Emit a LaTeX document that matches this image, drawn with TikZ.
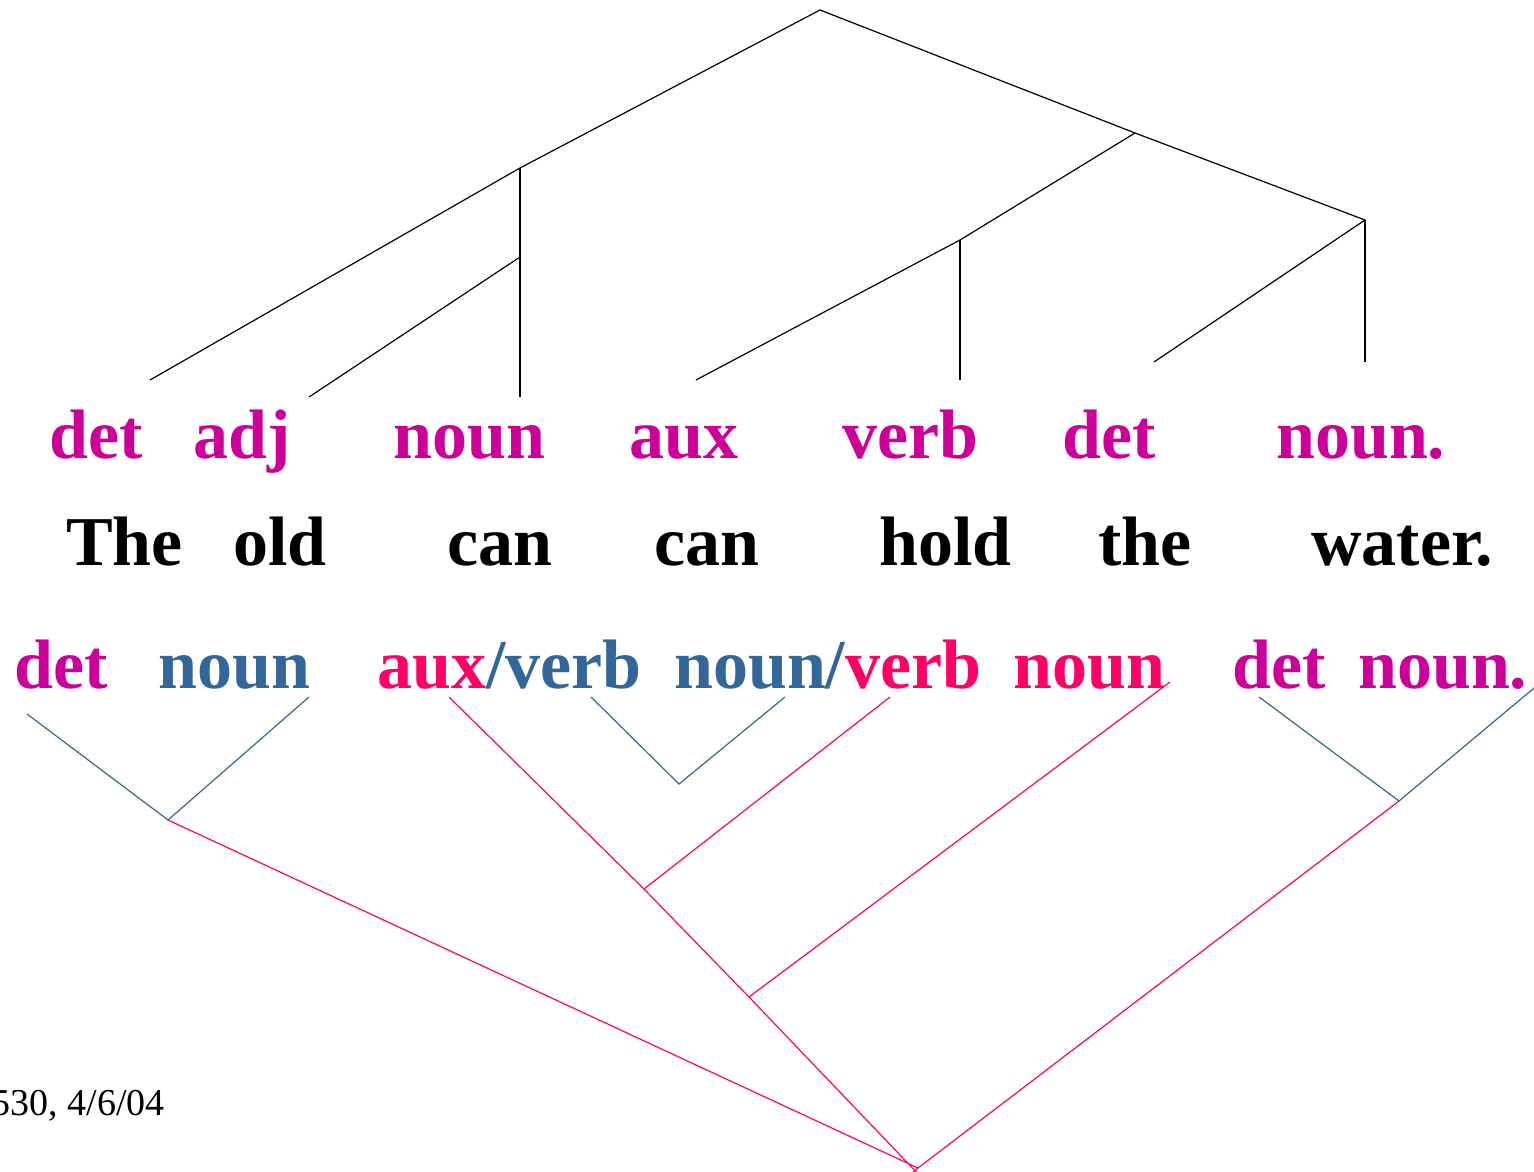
\documentclass[tikz,border=0pt]{standalone}
\usepackage{fontspec}
\setmainfont{Liberation Serif}
\definecolor{tagmag}{RGB}{204,0,153}
\definecolor{tagblue}{RGB}{51,102,153}
\definecolor{tagred}{RGB}{255,0,102}
\begin{document}
\begin{tikzpicture}[x=1pt,y=-1pt,
  word/.style={anchor=base west,inner sep=0pt,font=\fontsize{70}{70}\selectfont\bfseries},
  tagm/.style={word,text=tagmag},
  tagb/.style={word,text=tagblue},
  tagr/.style={word,text=tagred},
  wblack/.style={word,text=black},
  blk/.style={draw=black,line width=1.2pt},
  blu/.style={draw=tagblue,line width=1.2pt},
  rd/.style={draw=tagred,line width=1.2pt}]
\useasboundingbox (0,0) rectangle (1534,1172);
% row 1 tags
\node[tagm] (t1) at (49,458) {det};
\node[tagm] (t2) at (193,458) {adj};
\node[tagm] (t3) at (393,458) {noun};
\node[tagm] (t4) at (629,458) {aux};
\node[tagm] (t5) at (842,458) {verb};
\node[tagm] (t6) at (1062,458) {det};
\node[tagm] (t7) at (1276,458) {noun.};
% row 2 words
\node[wblack] (w1) at (66,565) {The};
\node[wblack] (w2) at (233,565) {old};
\node[wblack] (w3) at (447,565) {can};
\node[wblack] (w4) at (654,565) {can};
\node[wblack] (w5) at (879,565) {hold};
\node[wblack] (w6) at (1098,565) {the};
\node[wblack] (w7) at (1311,565) {water.};
% row 3 tags
\node[tagm] (b1) at (14,688) {det};
\node[tagb] (b2) at (158,688) {noun};
\node[word] (b3) at (377,688) {\textcolor{tagred}{aux}\textcolor{tagblue}{/verb}};
\node[word] (b4) at (674,688) {\textcolor{tagblue}{noun/}\textcolor{tagred}{verb}};
\node[tagr] (b5) at (1013,688) {noun};
\node[tagm] (b6) at (1232,688) {det};
\node[tagm] (b7) at (1358,688) {noun.};
% footer
\node[anchor=base east,inner sep=0pt,font=\fontsize{38}{38}\selectfont] (foot) at (165,1115) {530, 4/6/04};
% top tree coordinates
\coordinate (root) at (820,10);
\coordinate (np) at (520,168);
\coordinate (nbar) at (520,257);
\coordinate (vp) at (1135,133);
\coordinate (vbar) at (960,240);
\coordinate (obj) at (1365,220);
\coordinate (l1) at (150,380);
\coordinate (l2) at (309,397);
\coordinate (l3) at (520,397);
\coordinate (l4) at (696,380);
\coordinate (l5) at (960,380);
\coordinate (l6) at (1154,362);
\coordinate (l7) at (1365,362);
\draw[blk] (l1) -- (np) -- (root) -- (vp) -- (obj);
\draw[blk] (np) -- (l3);
\draw[blk] (nbar) -- (l2);
\draw[blk] (vp) -- (vbar) -- (l4);
\draw[blk] (vbar) -- (l5);
\draw[blk] (obj) -- (l6);
\draw[blk] (obj) -- (l7);
% bottom tree coordinates
\coordinate (m1) at (27,714);
\coordinate (m2) at (309,697);
\coordinate (j1) at (168,820);
\coordinate (m3) at (591,697);
\coordinate (m4) at (785,697);
\coordinate (j2) at (679,784);
\coordinate (m5) at (1259,697);
\coordinate (m6) at (1540,683);
\coordinate (j3) at (1399,801);
\coordinate (r1) at (449,697);
\coordinate (r2) at (890,697);
\coordinate (r3) at (1170,682);
\coordinate (k1) at (644,889);
\coordinate (k2) at (749,997);
\coordinate (apex) at (918,1168);
\coordinate (apexlow) at (922,1178);
\draw[blu] (m1) -- (j1) -- (m2);
\draw[blu] (m3) -- (j2) -- (m4);
\draw[blu] (m5) -- (j3) -- (m6);
\draw[rd] (j1) -- (apex);
\draw[rd] (r1) -- (k1) -- (k2) -- (apexlow);
\draw[rd] (r2) -- (k1);
\draw[rd] (r3) -- (k2);
\draw[rd] (j3) -- (apex) -- ++(-6,5);
\end{tikzpicture}
\end{document}
